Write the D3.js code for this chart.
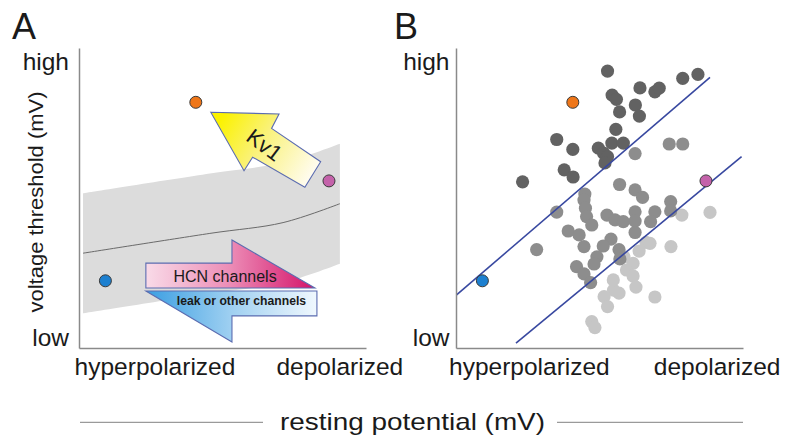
<!DOCTYPE html>
<html><head><meta charset="utf-8">
<script src="https://cdn.jsdelivr.net/npm/d3@7"></script>
<style>body{margin:0;background:#fff}svg{display:block}text{font-family:"Liberation Sans",Arial,Helvetica,sans-serif;fill:#1a1a1a}</style>
</head><body><svg id="c" width="785" height="438"></svg>
<script>
// ---------- data ----------
const panelLabels = ["A", "B"];
const xTickLabels = ["hyperpolarized", "depolarized"];
const yTickLabels = ["low", "high"];
const xAxisTitle = "resting potential (mV)";
const yAxisTitle = "voltage threshold (mV)";

// highlighted example neurons (same in both panels)
const highlightX = [4.07, 8.71, 0.92];
const highlightY = [8.19, 5.57, 2.24];
const highlightColors = ["#ee7619", "#c462aa", "#1d80d0"];

// panel A: population trend (centre line) and band half-width
const trendX = [0.14, 4.56, 7.11, 9.09];
const trendY = [3.16, 3.82, 4.18, 4.81];
const bandHalfWidth = 2.0;

// panel A: arrows (outline vertices)
const kvX = [4.59, 6.97, 6.71, 8.42, 7.87, 6.05, 5.75];
const kvY = [7.86, 7.80, 7.32, 6.21, 5.36, 6.36, 5.91];
const hcnX = [2.33, 5.33, 5.33, 8.22, 2.33];
const hcnY = [2.83, 2.83, 3.60, 2.00, 2.00];
const leakX = [2.33, 8.29, 8.29, 5.33, 5.33];
const leakY = [1.90, 1.90, 1.07, 1.07, 0.20];
const arrowLabels = ["Kv1", "HCN channels", "leak or other channels"];

// panel B: scatter groups
const darkX = [5.28,7.90,8.43,6.41,6.93,7.08,5.44,5.59,6.25,5.70,6.39,5.57,3.51,5.43,5.83,4.07,4.96,5.14,5.28,5.19,3.77,4.08,2.32];
const darkY = [9.23,8.99,9.12,8.67,8.54,8.66,8.43,8.29,8.10,7.87,7.73,7.29,6.95,6.83,6.83,6.62,6.66,6.50,6.38,6.17,5.94,5.70,5.54];
const midX = [7.43,7.90,6.24,5.70,4.49,4.46,4.51,4.55,4.73,6.24,6.50,7.48,7.48,3.51,5.26,5.54,5.83,6.24,6.24,6.93,6.78,3.91,4.29,4.46,6.24,5.40,5.13,2.81,5.68,5.71,4.91,4.81,4.20,4.46,4.69];
const midY = [6.80,6.80,6.48,5.45,5.13,4.93,4.66,4.38,4.10,5.27,5.02,4.88,4.57,4.53,4.43,4.27,4.21,4.54,4.23,4.54,4.21,3.90,3.77,3.38,3.85,3.63,3.40,3.28,3.28,2.97,3.04,2.80,2.71,2.47,2.18];
const lightX = [7.87,8.85,7.49,6.62,6.38,6.17,5.94,6.17,6.27,5.68,5.49,5.16,5.28,6.93,4.73,4.84,6.76,5.85,5.48];
const lightY = [4.43,4.52,3.38,3.52,3.23,2.82,2.60,2.40,2.03,1.83,1.93,1.71,1.38,1.70,0.88,0.68,3.49,3.04,2.27];
const groupColors = ["#c6c6c6", "#8d8d8d", "#626262"];

// panel B: boundary lines
const line1X = [0.02, 8.85], line1Y = [1.77, 9.02];
const line2X = [2.09, 9.95], line2Y = [0.16, 6.38];

// ---------- drawing ----------
const svg = d3.select("#c");
const FONT = 24.5;
const defs = svg.append("defs");

function makePanel(x0) {
  return {
    x: d3.scaleLinear().domain([0, 10]).range([x0, x0 + 287]),
    y: d3.scaleLinear().domain([0, 10]).range([348, 48])
  };
}
const A = makePanel(79), B = makePanel(456);

function axes(P, xTicks, yTicks, yPad) {
  const gy = svg.append("g").attr("transform", `translate(${P.x.range()[0]},0)`)
    .call(d3.axisLeft(P.y).tickValues(yTicks).tickFormat((d, i) => yTickLabels[i]).tickSize(0).tickSizeOuter(0).tickPadding(yPad));
  const gx = svg.append("g").attr("transform", `translate(0,${P.y.range()[0]})`)
    .call(d3.axisBottom(P.x).tickValues(xTicks).tickFormat((d, i) => xTickLabels[i]).tickSize(0).tickSizeOuter(0).tickPadding(9.6));
  [gx, gy].forEach(g => {
    g.select(".domain").attr("stroke", "#8a8a8a").attr("stroke-width", 1.5);
    g.selectAll("text").attr("font-size", FONT).attr("fill", "#1a1a1a")
      .style("font-family", '"Liberation Sans",Arial,sans-serif');
  });
}

// ----- Panel A -----
const trend = trendX.map((x, i) => ({x, y: trendY[i]}));
svg.append("path").datum(trend)
  .attr("d", d3.area().curve(d3.curveCatmullRom).x(d => A.x(d.x))
    .y0(d => A.y(d.y - bandHalfWidth)).y1(d => A.y(d.y + bandHalfWidth)))
  .attr("fill", "#dcdcdc");
svg.append("path").datum(trend)
  .attr("d", d3.line().curve(d3.curveCatmullRom).x(d => A.x(d.x)).y(d => A.y(d.y)))
  .attr("fill", "none").attr("stroke", "#6a6a6a").attr("stroke-width", 1);

function grad(id, p1, p2, stops) {
  const g = defs.append("linearGradient").attr("id", id).attr("gradientUnits", "userSpaceOnUse")
    .attr("x1", p1[0]).attr("y1", p1[1]).attr("x2", p2[0]).attr("y2", p2[1]);
  stops.forEach(s => g.append("stop").attr("offset", s[0]).attr("stop-color", s[1]));
}
function poly(P, xs, ys) { return xs.map((x, i) => [P.x(x), P.y(ys[i])]); }

// Kv1 arrow
const kvPts = poly(A, kvX, kvY);
const kvTail = [(kvPts[3][0] + kvPts[4][0]) / 2, (kvPts[3][1] + kvPts[4][1]) / 2];
grad("gKv", kvPts[0], kvTail, [[0.1, "#fbf200"], [0.5, "#faf27c"], [1, "#fffcf0"]]);
svg.append("path").attr("d", d3.line()(kvPts) + "Z")
  .attr("fill", "url(#gKv)").attr("stroke", "#5b6cb0").attr("stroke-width", 1.1);

// HCN arrow
const hcnPts = poly(A, hcnX, hcnY);
grad("gHcn", [A.x(hcnX[0]), 0], [A.x(hcnX[3]), 0], [[0, "#f9dbe8"], [0.5, "#ec8cb6"], [1, "#d4136a"]]);
svg.append("path").attr("d", d3.line()(hcnPts) + "Z")
  .attr("fill", "url(#gHcn)").attr("stroke", "#5b6cb0").attr("stroke-width", 1.1);

// leak arrow
const leakPts = poly(A, leakX, leakY);
grad("gLeak", [A.x(leakX[0]), 0], [A.x(leakX[1]), 0], [[0, "#3a9ee2"], [0.5, "#9fd0f1"], [1, "#f0f8fe"]]);
svg.append("path").attr("d", d3.line()(leakPts) + "Z")
  .attr("fill", "url(#gLeak)").attr("stroke", "#5b6cb0").attr("stroke-width", 1.1);

svg.append("text").attr("transform", `translate(${A.x(6.46)},${A.y(6.77)}) rotate(37)`)
  .attr("text-anchor", "middle").attr("dy", "0.35em").attr("font-size", 22).text(arrowLabels[0]);
svg.append("text").attr("x", A.x(5.09)).attr("y", A.y(2.21)).attr("text-anchor", "middle")
  .attr("font-size", 16).attr("fill", "#2a2a3a").text(arrowLabels[1]);
svg.append("text").attr("x", A.x(5.66)).attr("y", A.y(1.43)).attr("text-anchor", "middle")
  .attr("font-size", 12.2).attr("font-weight", "bold").attr("fill", "#1e2030").text(arrowLabels[2]);

function highlights(P) {
  svg.append("g").selectAll("circle").data(highlightX).join("circle")
    .attr("cx", (d) => P.x(d)).attr("cy", (d, i) => P.y(highlightY[i])).attr("r", 6)
    .attr("fill", (d, i) => highlightColors[i]).attr("stroke", "#3a3a3a").attr("stroke-width", 1);
}
highlights(A);
axes(A, [2.63, 9.07], [0.36, 9.53], 10);

// ----- Panel B -----
[[lightX, lightY], [midX, midY], [darkX, darkY]].forEach(([xs, ys], gi) => {
  svg.append("g").selectAll("circle").data(xs).join("circle")
    .attr("cx", d => B.x(d)).attr("cy", (d, i) => B.y(ys[i])).attr("r", 6.6)
    .attr("fill", groupColors[gi]);
});
[[line1X, line1Y], [line2X, line2Y]].forEach(([xs, ys]) => {
  svg.append("line").attr("x1", B.x(xs[0])).attr("y1", B.y(ys[0]))
    .attr("x2", B.x(xs[1])).attr("y2", B.y(ys[1]))
    .attr("stroke", "#3848a0").attr("stroke-width", 1.6);
});
highlights(B);
axes(B, [2.54, 9.08], [0.36, 9.53], 6.5);

// panel letters
svg.append("text").attr("x", 12).attr("y", 39.3).attr("font-size", 36).text(panelLabels[0]);
svg.append("text").attr("x", 394).attr("y", 39.3).attr("font-size", 36).text(panelLabels[1]);

// y title (panel A)
svg.append("text").attr("transform", "translate(42.7,202) rotate(-90)")
  .attr("text-anchor", "middle").attr("font-size", 21)
  .attr("textLength", 221).attr("lengthAdjust", "spacingAndGlyphs").text(yAxisTitle);

// shared x title with side rules
svg.append("line").attr("x1", 80).attr("x2", 263).attr("y1", 422.3).attr("y2", 422.3)
  .attr("stroke", "#9a9a9a").attr("stroke-width", 1.2);
svg.append("line").attr("x1", 557).attr("x2", 743).attr("y1", 422.3).attr("y2", 422.3)
  .attr("stroke", "#9a9a9a").attr("stroke-width", 1.2);
svg.append("text").attr("x", 280).attr("y", 429.5).attr("font-size", 24)
  .attr("textLength", 265).attr("lengthAdjust", "spacingAndGlyphs").text(xAxisTitle);
</script></body></html>
